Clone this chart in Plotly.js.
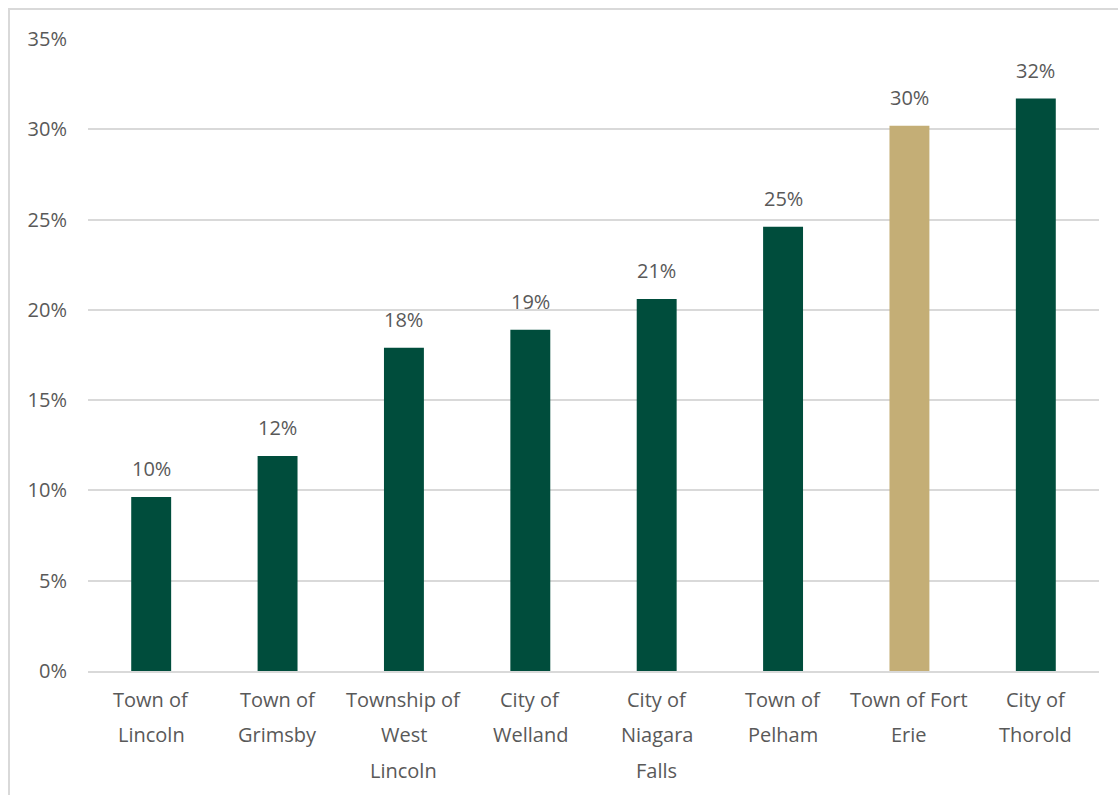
<!DOCTYPE html>
<html>
<head>
<meta charset="utf-8">
<script src="https://cdn.plot.ly/plotly-3.0.1.min.js"></script>
<style>
  html, body { margin: 0; padding: 0; background: #ffffff; overflow: hidden; }
  #chart { position: absolute; left: 0; top: 0; width: 1118px; height: 795px; }
  #frame { position: absolute; left: 8px; top: 8px; width: 1200px; height: 900px;
           border-left: 2px solid #d9d9d9; border-top: 2px solid #d9d9d9; pointer-events: none; }
</style>
</head>
<body>
<div id="chart"></div>
<div id="frame"></div>
<script>
const categories = ["Town of Lincoln", "Town of Grimsby", "Township of West Lincoln", "City of Welland",
                    "City of Niagara Falls", "Town of Pelham", "Town of Fort Erie", "City of Thorold"];
const tickLines = [
  ["Town of", "Lincoln"],
  ["Town of", "Grimsby"],
  ["Township of", "West", "Lincoln"],
  ["City of", "Welland"],
  ["City of", "Niagara", "Falls"],
  ["Town of", "Pelham"],
  ["Town of Fort", "Erie"],
  ["City of", "Thorold"]
];
const values = [0.0963, 0.119, 0.179, 0.189, 0.206, 0.246, 0.302, 0.317];
const highlight = "Town of Fort Erie";

const GREEN = "#004d3c";
const GOLD = "#c4ae76";
const TXT = "#595959";
const FONT = "'Open Sans', 'Noto Sans', sans-serif";
const FS = 20;

const colors = categories.map(c => c === highlight ? GOLD : GREEN);

const trace = {
  type: "bar",
  x: categories,
  y: values,
  marker: { color: colors },
  cliponaxis: false,
  hoverinfo: "skip"
};

const annotations = [];
categories.forEach((c, i) => {
  annotations.push({
    x: c, y: values[i], xref: "x", yref: "y",
    text: Math.round(values[i] * 100) + "%", showarrow: false,
    xanchor: "center", yanchor: "bottom", yshift: 13,
    font: { family: FONT, size: FS, color: TXT }
  });
  tickLines[i].forEach((line, j) => {
    annotations.push({
      x: c, y: 0, xref: "x", yref: "y",
      text: line, showarrow: false,
      xanchor: "center", yanchor: "middle",
      yshift: -28 - j * 35.5,
      font: { family: FONT, size: FS, color: TXT }
    });
  });
});

const layout = {
  width: 1118, height: 795,
  margin: { l: 88, r: 19, t: 39, b: 124 },
  paper_bgcolor: "rgba(0,0,0,0)",
  plot_bgcolor: "#ffffff",
  showlegend: false,
  bargap: 0.684,
  font: { family: FONT, color: TXT },
  xaxis: {
    type: "category",
    showticklabels: false,
    showline: true, linecolor: "#d9d9d9", linewidth: 2,
    ticks: "", showgrid: false, zeroline: false, fixedrange: true
  },
  yaxis: {
    range: [0, 0.35],
    tickvals: [0, 0.05, 0.10, 0.15, 0.20, 0.25, 0.30, 0.35],
    tickformat: ".0%",
    tickfont: { family: FONT, size: FS, color: TXT },
    showgrid: true, gridcolor: "#d9d9d9", gridwidth: 2,
    zeroline: false, showline: false, ticks: "",
    ticklabelstandoff: 20,
    fixedrange: true
  },
  annotations: annotations
};

Plotly.newPlot("chart", [trace], layout, { displayModeBar: false, staticPlot: true });
</script>
</body>
</html>
